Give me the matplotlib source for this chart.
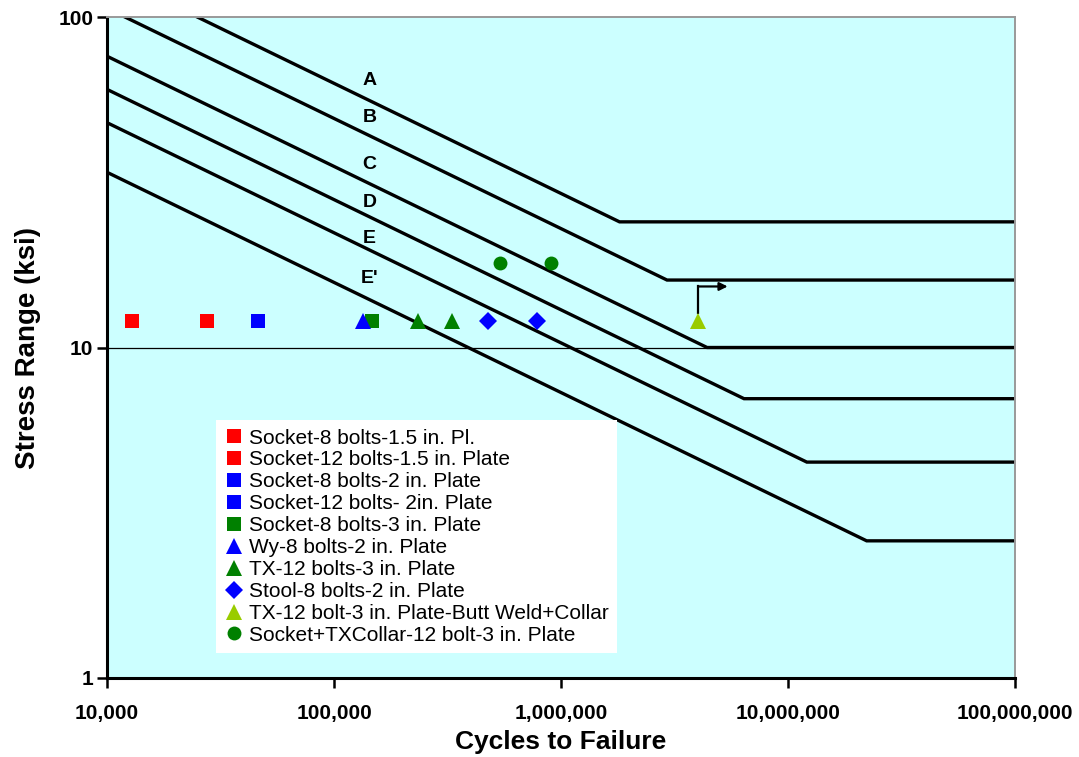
import matplotlib
matplotlib.use("Agg")
import matplotlib.pyplot as plt
from matplotlib.ticker import FixedLocator, NullLocator

plt.rcParams["font.family"] = ["Liberation Sans", "DejaVu Sans"]

# ---------------------------------------------------------------------------
# Data
# ---------------------------------------------------------------------------
categories = ["A", "B", "C", "D", "E", "E'"]
curve_cycles = {
    "A":  [2.5e4, 1.81e6, 1e8],
    "B":  [1.2e4, 2.93e6, 1e8],
    "C":  [1e4, 4.4e6, 1e8],
    "D":  [1e4, 6.4e6, 1e8],
    "E":  [1e4, 1.21e7, 1e8],
    "E'": [1e4, 2.22e7, 1e8],
}
curve_stress = {
    "A":  [100, 24, 24],
    "B":  [100, 16, 16],
    "C":  [76.1, 10, 10],
    "D":  [60.4, 7, 7],
    "E":  [47.9, 4.5, 4.5],
    "E'": [33.9, 2.6, 2.6],
}
label_x = [1.43e5] * 6
label_y = [64.4, 49.5, 35.8, 27.5, 21.3, 16.2]

series_names = [
    "Socket-8 bolts-1.5 in. Pl.",
    "Socket-12 bolts-1.5 in. Plate",
    "Socket-8 bolts-2 in. Plate",
    "Socket-12 bolts- 2in. Plate",
    "Socket-8 bolts-3 in. Plate",
    "Wy-8 bolts-2 in. Plate",
    "TX-12 bolts-3 in. Plate",
    "Stool-8 bolts-2 in. Plate",
    "TX-12 bolt-3 in. Plate-Butt Weld+Collar",
    "Socket+TXCollar-12 bolt-3 in. Plate",
]
series_cycles = [
    [1.29e4],
    [2.76e4],
    [4.62e4],
    [4.62e4],
    [1.47e5],
    [1.34e5],
    [2.34e5, 3.30e5],
    [4.79e5, 7.82e5],
    [4.03e6],
    [5.38e5, 9.02e5],
]
series_stress = [
    [12], [12], [12], [12], [12], [12],
    [12, 12], [12, 12], [12], [18, 18],
]
series_markers = ["s", "s", "s", "s", "s", "^", "^", "D", "^", "o"]
series_colors = ["#FF0000", "#FF0000", "#0000FF", "#0000FF", "#008000",
                 "#0000FF", "#008000", "#0000FF", "#99CC00", "#008000"]
series_sizes = [10, 10, 10, 10, 10, 11, 11, 9, 11, 10]

# run-out arrow on the butt weld + collar specimen
arrow_x = [4.03e6, 4.03e6, 5.42e6]
arrow_y = [12.7, 15.3, 15.3]

# ---------------------------------------------------------------------------
# Figure
# ---------------------------------------------------------------------------
fig = plt.figure(figsize=(10.79, 7.57), dpi=100)
ax = fig.add_axes([0.0992, 0.1044, 0.8415, 0.8731])
ax.set_facecolor("#CCFFFF")
ax.set_xscale("log")
ax.set_yscale("log")
ax.set_xlim(1e4, 1e8)
ax.set_ylim(1, 100)

ax.axhline(10, color="black", lw=0.9, zorder=1)

for cat in categories:
    ax.plot(curve_cycles[cat], curve_stress[cat], color="black", lw=2.4,
            solid_joinstyle="miter", zorder=2)

for cat, lx, ly in zip(categories, label_x, label_y):
    ax.text(lx, ly, cat, ha="center", va="center", fontsize=14,
            fontweight="bold", zorder=3)

handles = []
for name, xs, ys, m, c, s in zip(series_names, series_cycles, series_stress,
                                  series_markers, series_colors, series_sizes):
    h, = ax.plot(xs, ys, linestyle="none", marker=m, color=c, markersize=s,
                 markeredgewidth=0, label=name, zorder=4)
    handles.append(h)

ax.plot(arrow_x[:2], arrow_y[:2], color="black", lw=1.6, zorder=3)
ax.annotate("", xy=(arrow_x[2], arrow_y[2]), xytext=(arrow_x[1], arrow_y[1]),
            arrowprops=dict(arrowstyle="-|>", color="black", lw=1.6,
                            mutation_scale=12, shrinkA=0, shrinkB=0),
            zorder=3)

# axes styling
for side in ("left", "bottom"):
    ax.spines[side].set_linewidth(2.2)
    ax.spines[side].set_color("black")
for side in ("top", "right"):
    ax.spines[side].set_linewidth(1.4)
    ax.spines[side].set_color("#999999")

ax.xaxis.set_major_locator(FixedLocator([1e4, 1e5, 1e6, 1e7, 1e8]))
ax.xaxis.set_minor_locator(NullLocator())
ax.yaxis.set_major_locator(FixedLocator([1, 10, 100]))
ax.yaxis.set_minor_locator(NullLocator())
ax.set_xticklabels(["10,000", "100,000", "1,000,000", "10,000,000", "100,000,000"])
ax.set_yticklabels(["1", "10", "100"])
ax.tick_params(axis="both", direction="out", length=7, width=1.8,
               labelsize=15, pad=3)
ax.tick_params(axis="x", pad=12)
for lab in ax.get_xticklabels() + ax.get_yticklabels():
    lab.set_fontweight("bold")

ax.set_xlabel("Cycles to Failure", fontsize=19, fontweight="bold", labelpad=5)
ax.set_ylabel("Stress Range (ksi)", fontsize=20, fontweight="bold", labelpad=12)

leg = ax.legend(handles=handles, loc="upper left",
                bbox_to_anchor=(0.12, 0.39), fontsize=15, frameon=True,
                fancybox=False, edgecolor="white", framealpha=1,
                handlelength=0.9, handletextpad=0.3, labelspacing=0.14,
                borderpad=0.4, borderaxespad=0)
leg.get_frame().set_linewidth(0)

fig.savefig("out.png", dpi=100)
